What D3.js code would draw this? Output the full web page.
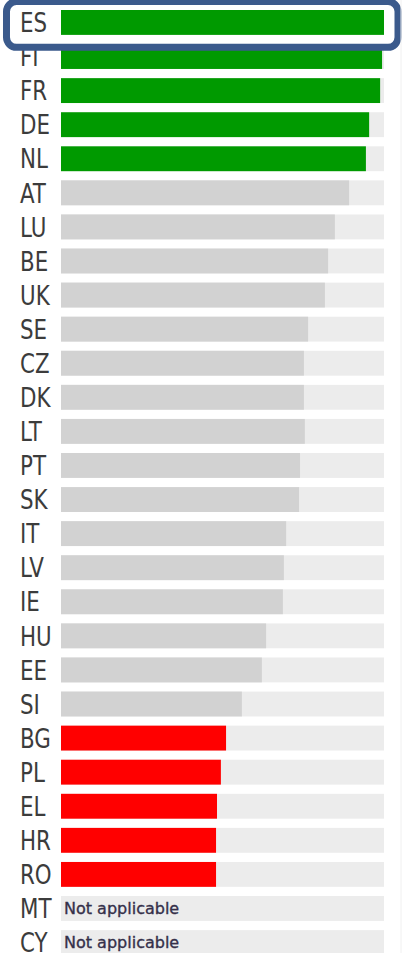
<!DOCTYPE html>
<html lang="en">
<head>
    <meta charset="UTF-8">
    <title>Country bars</title>
    <script src="https://d3js.org/d3.v7.min.js"></script>
    <style>
        body { margin: 0; background: #fff; }
        svg { display: block; }
    </style>
</head>
<body>
    <div id="chart"></div>
    <script>
        // Data (share of the full track, %)
        const countries = ["ES", "FI", "FR", "DE", "NL", "AT", "LU", "BE", "UK", "SE", "CZ", "DK", "LT", "PT",
            "SK", "IT", "LV", "IE", "HU", "EE", "SI", "BG", "PL", "EL", "HR", "RO", "MT", "CY"];
        const values = [100, 99.4, 98.8, 95.4, 94.4, 89.2, 84.8, 82.7, 81.7, 76.5, 75.2, 75.2, 75.5, 74.0,
            73.7, 69.7, 69.0, 68.7, 63.5, 62.2, 56.0, 51.1, 49.5, 48.3, 48.0, 48.0, null, null];
        const groups = ["top", "top", "top", "top", "top", "mid", "mid", "mid", "mid", "mid", "mid", "mid", "mid", "mid",
            "mid", "mid", "mid", "mid", "mid", "mid", "mid", "low", "low", "low", "low", "low", "na", "na"];
        const highlighted = ["ES"];
        const naLabel = "Not applicable";

        const data = countries.map((c, i) => ({ country: c, value: values[i], group: groups[i] }));

        const width = 405, height = 953;
        const colors = { top: "#009a00", mid: "#d2d2d2", low: "#ff0000", na: "#d2d2d2" };

        const svg = d3.select("#chart")
            .append("svg")
            .attr("width", width)
            .attr("height", height);

        const x = d3.scaleLinear().domain([0, 100]).range([61, 384]);
        const y = d3.scaleBand()
            .domain(countries)
            .range([10, 955])
            .paddingInner(0.27)
            .paddingOuter(0);

        // background tracks
        svg.selectAll("rect.track")
            .data(data).enter()
            .append("rect")
            .attr("class", "track")
            .attr("x", x(0))
            .attr("y", d => y(d.country))
            .attr("width", x(100) - x(0))
            .attr("height", y.bandwidth())
            .attr("fill", "#ececec");

        // value bars
        svg.selectAll("rect.bar")
            .data(data.filter(d => d.value != null)).enter()
            .append("rect")
            .attr("class", "bar")
            .attr("x", x(0))
            .attr("y", d => y(d.country))
            .attr("width", d => x(d.value) - x(0))
            .attr("height", y.bandwidth())
            .attr("fill", d => colors[d.group]);

        // "Not applicable" notes
        svg.selectAll("text.na")
            .data(data.filter(d => d.value == null)).enter()
            .append("text")
            .attr("class", "na")
            .attr("x", x(0) + 3)
            .attr("y", d => y(d.country) + y.bandwidth() / 2)
            .attr("dy", "0.33em")
            .style("font-family", "'DejaVu Sans', sans-serif")
            .style("font-size", "16px")
            .style("fill", "#35304a")
            .style("stroke", "#35304a")
            .style("stroke-width", 0.35)
            .text(naLabel);

        // country labels (tall, narrow letters)
        svg.selectAll("text.label")
            .data(data).enter()
            .append("text")
            .attr("class", "label")
            .attr("transform", d => `translate(20,${y(d.country) + y.bandwidth() / 2}) scale(0.88,1)`)
            .attr("dy", "0.36em")
            .style("font-family", "'DejaVu Sans Condensed', 'DejaVu Sans', sans-serif")
            .style("font-size", "27px")
            .style("font-weight", "300")
            .style("fill", "#3c3c3c")
            .text(d => d.country);

        // highlight frame around the selected country
        highlighted.forEach(c => {
            svg.append("rect")
                .attr("x", 6.5)
                .attr("y", y(c) - y.step() * 0.25)
                .attr("width", 391.5)
                .attr("height", y.bandwidth() + 21)
                .attr("rx", 10)
                .attr("fill", "none")
                .attr("stroke", "#3b5a8c")
                .attr("stroke-width", 7);
        });

        // faint right edge
        svg.append("line")
            .attr("x1", 401).attr("x2", 401)
            .attr("y1", 0).attr("y2", height)
            .attr("stroke", "#f0f0f0")
            .attr("stroke-width", 1);
    </script>
</body>
</html>
